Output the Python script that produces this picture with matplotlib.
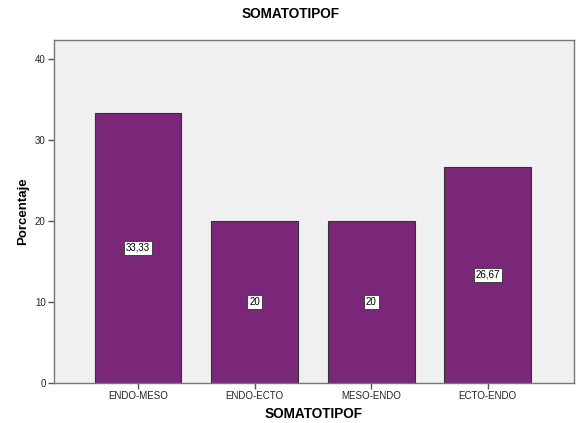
import matplotlib
matplotlib.use("Agg")
import matplotlib.pyplot as plt

categories = ["ENDO-MESO", "ENDO-ECTO", "MESO-ENDO", "ECTO-ENDO"]
values = [33.33, 20, 20, 26.67]
labels = ["33,33", "20", "20", "26,67"]
yticks = [0, 10, 20, 30, 40]

plt.rcParams['font.family'] = ['Arial', 'Liberation Sans', 'DejaVu Sans']

fig = plt.figure(figsize=(5.81, 4.23), dpi=100)
ax = fig.add_axes([54/581, 40/423, 520/581, 343/423])
ax.set_facecolor("#F0F0F0")
x = list(range(len(categories)))
ax.bar(x, values, width=0.744, color="#7B2779", edgecolor="#333333", linewidth=0.8, zorder=2)
for xi, v, lab in zip(x, values, labels):
    ax.text(xi, v/2, lab, ha="center", va="center", fontsize=7, color="black",
            bbox=dict(boxstyle="square,pad=0.2", facecolor="white", edgecolor="#333333", linewidth=0.6), zorder=3)
ax.set_xlim(-0.722, 3.74)
ax.set_ylim(0, 42.3)
ax.set_xticks(x)
ax.set_xticklabels(categories, fontsize=7)
ax.set_yticks(yticks)
ax.set_yticklabels([str(t) for t in yticks], fontsize=7)
for s in ax.spines.values():
    s.set_color("#777777")
    s.set_linewidth(1.0)
ax.tick_params(axis="both", length=4, width=1, color="#555555", labelcolor="#222222", pad=2)
ax.set_xlabel("SOMATOTIPOF", fontsize=9.8, fontweight="bold", labelpad=4)
ax.set_ylabel("Porcentaje", fontsize=9.5, fontweight="bold", labelpad=4)
fig.text(0.5, 1 - 14/423, "SOMATOTIPOF", ha="center", va="center", fontsize=9.8, fontweight="bold")
fig.savefig("out.png", dpi=100, facecolor="white")
